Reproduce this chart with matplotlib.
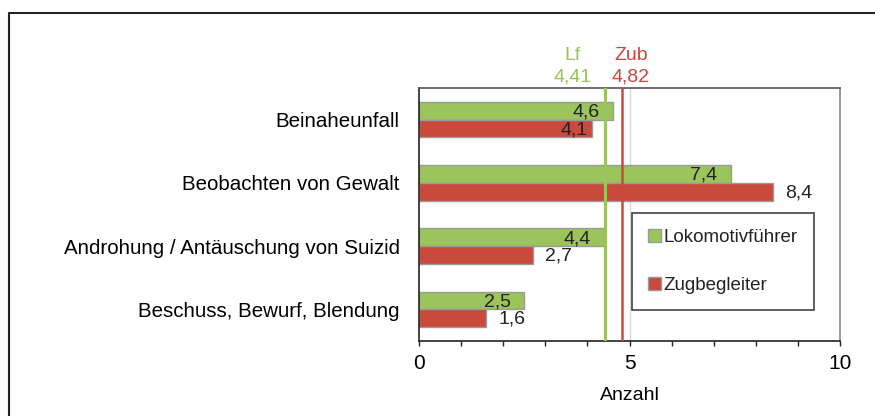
import matplotlib.pyplot as plt
from matplotlib.lines import Line2D
from matplotlib.patches import Patch

plt.rcParams["font.family"] = ["Liberation Sans", "DejaVu Sans"]
plt.rcParams["text.color"] = "#222222"

categories = [
    "Beinaheunfall",
    "Beobachten von Gewalt",
    "Androhung / Antäuschung von Suizid",
    "Beschuss, Bewurf, Blendung",
]
lokf = [4.6, 7.4, 4.4, 2.5]
zugb = [4.1, 8.4, 2.7, 1.6]
# where the red value label sits: inside or outside the bar end
zugb_label_pos = ["in", "out", "out", "out"]
mean_lokf = 4.41
mean_zugb = 4.82

green = "#9BC55A"
red = "#C9493C"
green_txt = "#93C653"
red_txt = "#D0453A"

fig = plt.figure(figsize=(8.75, 4.16), dpi=100)
ax = fig.add_axes([419 / 875, 1 - 341 / 416, 421 / 875, 253 / 416])

h = 0.28
ys = list(range(len(categories)))
ax.barh([y - h / 2 for y in ys], lokf, height=h, color=green,
        edgecolor="#9a9a9a", linewidth=1, label="Lokomotivführer", zorder=2)
ax.barh([y + h / 2 for y in ys], zugb, height=h, color=red,
        edgecolor="#9a9a9a", linewidth=1, label="Zugbegleiter", zorder=2)

for y, v in zip(ys, lokf):
    ax.annotate(f"{v:.1f}".replace(".", ","), (v, y - h / 2 + 0.02),
                xytext=(-9.5, 0), textcoords="offset points",
                ha="right", va="center", fontsize=14, zorder=4)
for y, v, pos in zip(ys, zugb, zugb_label_pos):
    dx = -3 if pos == "in" else 9
    ax.annotate(f"{v:.1f}".replace(".", ","), (v, y + h / 2 + 0.02),
                xytext=(dx, 0), textcoords="offset points",
                ha="right" if pos == "in" else "left", va="center",
                fontsize=14, zorder=4)

ax.axvline(5, color="#d9d9d9", linewidth=1, zorder=1)
ax.axvline(mean_lokf, color=green, linewidth=2.2, zorder=3)
ax.axvline(mean_zugb, color=red, linewidth=1.8, zorder=3)

for val, name, col, dx in [(mean_lokf, "Lf", green_txt, -23),
                           (mean_zugb, "Zub", red_txt, 6.5)]:
    ax.annotate(name, (val, 1), xycoords=("data", "axes fraction"),
                xytext=(dx, 20), textcoords="offset points",
                ha="center", va="baseline", fontsize=14, color=col)
    ax.annotate(f"{val:.2f}".replace(".", ","), (val, 1),
                xycoords=("data", "axes fraction"),
                xytext=(dx, 5), textcoords="offset points",
                ha="center", va="baseline", fontsize=14, color=col)

ax.set_xlim(0, 10)
ax.set_ylim(len(categories) - 0.5, -0.5)
ax.set_yticks(ys)
ax.set_yticklabels(categories, fontsize=14.8)
ax.tick_params(axis="y", length=0, pad=14)
ax.set_xticks([0, 5, 10])
ax.set_xticks(range(11), minor=True)
ax.tick_params(axis="x", which="both", direction="out", length=3.5,
               width=1, color="#222222", labelsize=15, pad=6)
ax.set_xlabel("Anzahl", fontsize=14, labelpad=10)

ax.spines["left"].set_color("#222222")
ax.spines["bottom"].set_color("#222222")
ax.spines["top"].set_color("#555555")
ax.spines["right"].set_color("#888888")
for s in ax.spines.values():
    s.set_linewidth(1.2)

handles = [Patch(facecolor=green, edgecolor="#9a9a9a", label="Lokomotivführer"),
           Patch(facecolor=red, edgecolor="#9a9a9a", label="Zugbegleiter")]
leg = ax.legend(handles=handles, loc="upper left",
                bbox_to_anchor=(631.7 / 875, 1 - 213 / 416),
                bbox_transform=fig.transFigure, borderaxespad=0,
                fontsize=13.5, fancybox=False, framealpha=1,
                edgecolor="#444444", borderpad=0.85, labelspacing=1.65,
                handlelength=0.7, handleheight=0.7, handletextpad=0.15)
leg.get_frame().set_linewidth(1.2)

fig.add_artist(Line2D([9 / 875, 9 / 875, 1], [0, 1 - 13 / 416, 1 - 13 / 416],
                      transform=fig.transFigure, color="#222222", linewidth=1.5))

fig.savefig("out.png", dpi=100)
